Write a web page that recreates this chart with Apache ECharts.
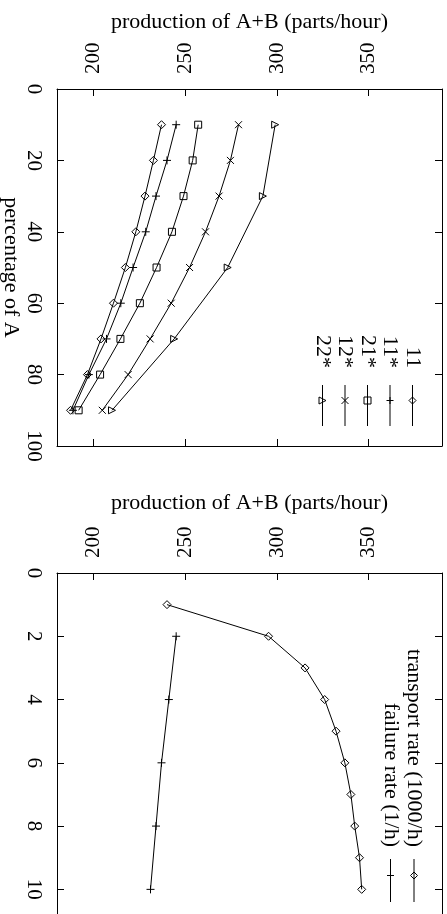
<!DOCTYPE html>
<html>
<head>
<meta charset="utf-8">
<script src="https://cdn.jsdelivr.net/npm/echarts@6/dist/echarts.min.js"></script>
<style>
  html, body { margin: 0; padding: 0; background: #fff; }
  #chart { width: 447px; height: 914px; }
</style>
</head>
<body>
<div id="chart"></div>
<script>
// top panel: production vs percentage of A
const percentA = [10, 20, 30, 40, 50, 60, 70, 80, 90];
const percentA22 = [10, 30, 50, 70, 90];
const prod11 = [237, 232.6, 228, 223, 217.3, 210.8, 204, 196.6, 187.4];
const prod11s = [245, 240, 234, 228.4, 221.5, 214.8, 207, 197.4, 188.7];
const prod21s = [257, 254, 249, 242.7, 234.3, 225.2, 214.6, 203.5, 191.8];
const prod12s = [279, 274.6, 268.4, 261, 252.3, 242.3, 230.8, 218.8, 204.7];
const prod22s = [299, 292.3, 273.1, 243.9, 210];

// bottom panel: production vs rate
const rateTransport = [1, 2, 3, 4, 5, 6, 7, 8, 9, 10];
const prodTransport = [240, 295.4, 315.3, 326, 332.2, 337, 340.3, 342.4, 345, 346.2];
const rateFailure = [2, 4, 6, 8, 10];
const prodFailure = [245, 241, 237, 234, 231];

const prodTicks = [200, 250, 300, 350];
const percentTicks = [0, 20, 40, 60, 80, 100];
const rateTicks = [0, 2, 4, 6, 8, 10];

const FONT = 'Liberation Serif';
const BLACK = '#000';
const SYM = {
  diamond: 'diamond',
  plus: 'path://M5,0L5,10M0,5L10,5',
  square: 'rect',
  cross: 'path://M0,0L10,10M10,0L0,10',
  triangle: 'path://M0,0L10,5L0,10Z'
};

const chart = echarts.init(document.getElementById('chart'));

const pairs = (xs, ys) => xs.map((x, i) => [ys[i], x]);

function prodAxis(gridIndex, position, name, nameGap) {
  return {
    type: 'value', gridIndex, position, min: 180, max: 390,
    name, nameLocation: 'middle', nameGap, nameMoveOverlap: false,
    nameTextStyle: { fontFamily: FONT, fontSize: 22, color: BLACK, verticalAlign: 'middle' },
    axisLine: { show: true, onZero: false, lineStyle: { color: BLACK, width: 1 } },
    axisTick: { show: true, inside: true, length: 7, customValues: prodTicks, lineStyle: { color: BLACK } },
    axisLabel: {
      show: position === 'top', rotate: -90, margin: 15, customValues: prodTicks,
      fontFamily: FONT, fontSize: 21, color: BLACK
    },
    splitLine: { show: false }
  };
}

function sideAxis(gridIndex, position, max, ticks, name) {
  return {
    type: 'value', gridIndex, position, inverse: true, min: 0, max,
    name, nameLocation: 'middle', nameGap: 46, nameRotate: -90, nameMoveOverlap: false,
    nameTextStyle: { fontFamily: FONT, fontSize: 22, color: BLACK, verticalAlign: 'middle' },
    axisLine: { show: true, onZero: false, lineStyle: { color: BLACK, width: 1 } },
    axisTick: { show: true, inside: true, length: 7, customValues: ticks, lineStyle: { color: BLACK } },
    axisLabel: {
      show: position === 'left', rotate: -90, margin: 13, customValues: ticks,
      fontFamily: FONT, fontSize: 21, color: BLACK
    },
    splitLine: { show: false }
  };
}

function line(name, xs, ys, sym, size, axisIndex) {
  return {
    type: 'line', name, xAxisIndex: axisIndex, yAxisIndex: axisIndex,
    data: pairs(xs, ys), symbol: SYM[sym], symbolSize: size,
    lineStyle: { color: BLACK, width: 1 },
    itemStyle: { color: 'rgba(0,0,0,0)', borderColor: BLACK, borderWidth: 1 },
    emphasis: { disabled: true }, silent: true
  };
}

// legend samples, drawn rotated like the rest of the figure
const stroke = { stroke: BLACK, lineWidth: 1, fill: null };
function seg(x1, y1, x2, y2) {
  return { type: 'line', shape: { x1, y1, x2, y2 }, style: stroke };
}
function markerElements(sym, cx, cy, s) {
  const h = s / 2;
  switch (sym) {
    case 'diamond':
      return [{ type: 'polygon', shape: { points: [[cx, cy - h], [cx + h, cy], [cx, cy + h], [cx - h, cy]] }, style: stroke }];
    case 'plus':
      return [seg(cx - h, cy, cx + h, cy), seg(cx, cy - h, cx, cy + h)];
    case 'square':
      return [{ type: 'rect', shape: { x: cx - h, y: cy - h, width: s, height: s }, style: stroke }];
    case 'cross':
      return [seg(cx - h, cy - h, cx + h, cy + h), seg(cx + h, cy - h, cx - h, cy + h)];
    case 'triangle':
      return [{ type: 'polygon', shape: { points: [[cx - h, cy - h], [cx + h, cy], [cx - h, cy + h]] }, style: stroke }];
  }
  return [];
}

function legendEntries(entries, textEnd, y1, y2) {
  const out = [];
  entries.forEach(e => {
    out.push({
      type: 'text', x: e.x, y: textEnd, rotation: -Math.PI / 2,
      style: { text: e.label, font: `22px "${FONT}"`, fill: BLACK, textAlign: 'right', textVerticalAlign: 'middle' }
    });
    out.push(seg(e.x, y1, e.x, y2));
    out.push(...markerElements(e.sym, e.x, (y1 + y2) / 2 - 5, 7));
  });
  return out;
}

const legendTop = [
  { label: '11', sym: 'diamond', x: 412.5 },
  { label: '11*', sym: 'plus', x: 390 },
  { label: '21*', sym: 'square', x: 367.5 },
  { label: '12*', sym: 'cross', x: 345 },
  { label: '22*', sym: 'triangle', x: 322.5 }
];
const legendBottom = [
  { label: 'transport rate (1000/h)', sym: 'diamond', x: 414 },
  { label: 'failure rate (1/h)', sym: 'plus', x: 390.5 }
];

chart.setOption({
  animation: false,
  backgroundColor: '#fff',
  grid: [
    { left: 57, top: 89, width: 385, height: 357, outerBoundsMode: 'none', containLabel: false },
    { left: 57, top: 573, width: 385, height: 348, outerBoundsMode: 'none', containLabel: false }
  ],
  xAxis: [
    prodAxis(0, 'top', 'production of A+B (parts/hour)', 67),
    prodAxis(1, 'top', 'production of A+B (parts/hour)', 70),
    prodAxis(0, 'bottom', '', 0),
    prodAxis(1, 'bottom', '', 0)
  ],
  yAxis: [
    sideAxis(0, 'left', 100, percentTicks, 'percentage of A'),
    sideAxis(1, 'left', 11, rateTicks, ''),
    sideAxis(0, 'right', 100, percentTicks, ''),
    sideAxis(1, 'right', 11, rateTicks, '')
  ],
  series: [
    line('11', percentA, prod11, 'diamond', 8, 0),
    line('11*', percentA, prod11s, 'plus', 8, 0),
    line('21*', percentA, prod21s, 'square', 7, 0),
    line('12*', percentA, prod12s, 'cross', 7, 0),
    line('22*', percentA22, prod22s, 'triangle', 7, 0),
    line('transport rate (1000/h)', rateTransport, prodTransport, 'diamond', 8, 1),
    line('failure rate (1/h)', rateFailure, prodFailure, 'plus', 8, 1)
  ],
  graphic: [
    ...legendEntries(legendTop, 368, 385, 426),
    ...legendEntries(legendBottom, 847, 859, 902)
  ]
});
</script>
</body>
</html>
